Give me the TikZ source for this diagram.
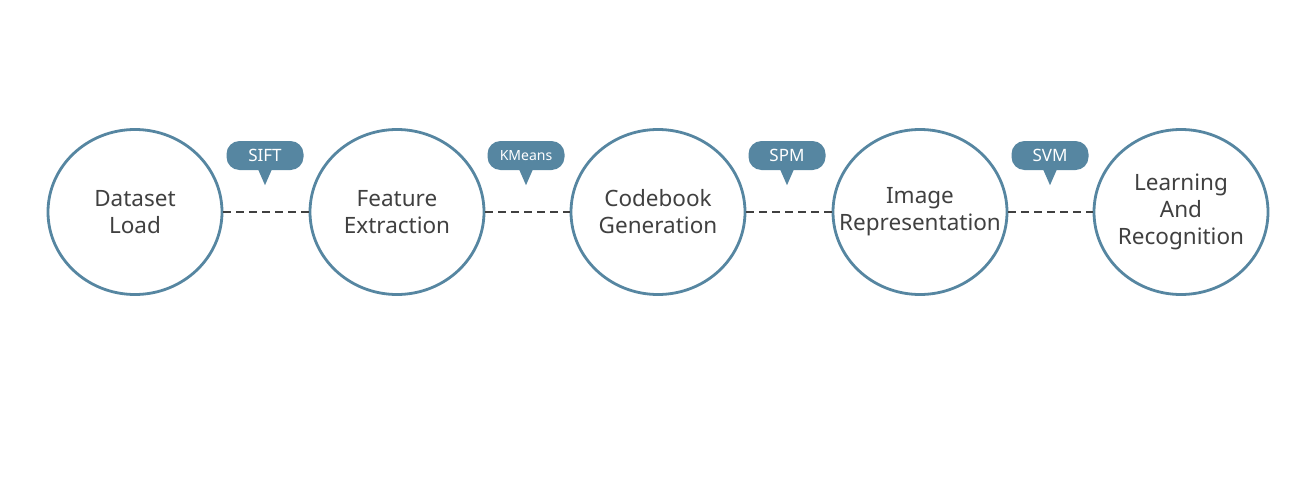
\documentclass[tikz,border=0pt]{standalone}
\usepackage{fontspec}
\setmainfont{Noto Sans}
\usetikzlibrary{shapes.geometric}
\definecolor{steel}{HTML}{5686A1}
\definecolor{ink}{HTML}{404040}

\begin{document}
\begin{tikzpicture}[x=1pt,y=-1pt,
    stage/.style={ellipse,draw=steel,line width=2.8pt,fill=white,minimum width=174pt,
        minimum height=165pt,inner sep=0pt,
        label={[align=center,text=ink,font=\fontsize{22.5}{27}\selectfont]center:#1}},
    tag/.style={fill=steel,rounded corners=13pt,minimum width=77pt,minimum height=29pt,
        inner sep=0pt,text=white,font=\fontsize{17}{18}\selectfont},
    link/.style={ink,line width=1.5pt,dash pattern=on 8pt off 5pt}]

    \useasboundingbox (0,0) rectangle (1315,482);

    \node[stage={Dataset\\Load}] (load) at (135,212) {};
    \node[stage={Feature\\Extraction}] (feat) at (397,212) {};
    \node[stage={Codebook\\Generation}] (code) at (658,212) {};
    \node[stage={Image\\Representation}] (repr) at (920,212) {};
    \node[stage={Learning\\And\\Recognition}] (learn) at (1181,212) {};

    \node[tag] (sift) at (265,155.5) {SIFT};
    \node[tag, font=\fontsize{14}{16}\selectfont] (kmeans) at (526,155.5) {KMeans};
    \node[tag] (spm) at (787,155.5) {SPM};
    \node[tag] (svm) at (1050,155.5) {SVM};

    % pointers under the tags
    \foreach \t in {sift,kmeans,spm,svm}
        \fill[steel] ([xshift=-7pt,yshift=1pt]\t.south) -- ([xshift=7pt,yshift=1pt]\t.south)
            -- ([yshift=-15pt]\t.south) -- cycle;

    \path[link]
    (load) edge (feat)
    (feat) edge (code)
    (code) edge (repr)
    (repr) edge (learn);

\end{tikzpicture}
\end{document}
